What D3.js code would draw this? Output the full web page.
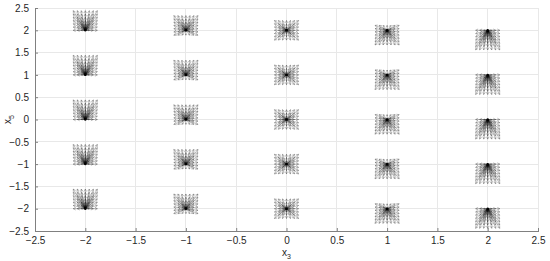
<!DOCTYPE html>
<html>
<head>
<meta charset="utf-8">
<script src="https://cdn.jsdelivr.net/npm/d3@7"></script>
<style>
  body { margin: 0; background: #fff; }
  text { font-family: "Liberation Sans", Arial, sans-serif; }
</style>
</head>
<body>
<script>
"use strict";

// grid points of the state plane
var x3Values = [-2, -1, 0, 1, 2];
var x5Values = [-2, -1, 0, 1, 2];

// endpoint offsets of each arrow fan
var dxOffsets = [-0.12, -0.08, -0.04, 0, 0.04, 0.08, 0.12];
var dyOffsets = [-0.22, -0.147, -0.073, 0, 0.073, 0.147, 0.22];
// vertical drift of the fan per x3 column
var columnDrift = [0.22, 0.11, 0, -0.11, -0.22];

var tickValues = [-2.5, -2, -1.5, -1, -0.5, 0, 0.5, 1, 1.5, 2, 2.5];

var width = 550, height = 261;
var margin = { top: 8, left: 35, right: 12, bottom: 30 };

var svg = d3.select("body").append("svg")
	.attr("width", width)
	.attr("height", height);

var xScale = d3.scaleLinear().domain([-2.5, 2.5]).range([margin.left, width - margin.right]);
var yScale = d3.scaleLinear().domain([-2.5, 2.5]).range([height - margin.bottom, margin.top]);

// gridlines
svg.append("g")
	.selectAll("line.vgrid")
	.data(tickValues)
	.enter().append("line")
	.attr("x1", d => xScale(d)).attr("x2", d => xScale(d))
	.attr("y1", yScale(-2.5)).attr("y2", yScale(2.5))
	.attr("stroke", "#e8e8e8").attr("stroke-width", 1)
	.attr("shape-rendering", "crispEdges");
svg.append("g")
	.selectAll("line.hgrid")
	.data(tickValues)
	.enter().append("line")
	.attr("y1", d => yScale(d)).attr("y2", d => yScale(d))
	.attr("x1", xScale(-2.5)).attr("x2", xScale(2.5))
	.attr("stroke", "#e8e8e8").attr("stroke-width", 1)
	.attr("shape-rendering", "crispEdges");

// axes
var xAxis = svg.append("g")
	.attr("transform", "translate(0," + yScale(-2.5) + ")")
	.call(d3.axisBottom(xScale).tickValues(tickValues).tickSize(-3).tickPadding(6).tickFormat(d3.format("")));
var yAxis = svg.append("g")
	.attr("transform", "translate(" + xScale(-2.5) + ",0)")
	.call(d3.axisLeft(yScale).tickValues(tickValues).tickSize(-3).tickPadding(6).tickFormat(d3.format("")));

[xAxis, yAxis].forEach(function(ax) {
	ax.select(".domain").attr("stroke", "#808080").attr("shape-rendering", "crispEdges");
	ax.selectAll(".tick line").attr("stroke", "#808080");
	ax.selectAll(".tick text").attr("fill", "#262626").style("font-size", "10px")
		.style("font-family", "'Liberation Sans', Arial, sans-serif");
});

// axis labels
var xLabel = svg.append("text")
	.attr("x", xScale(0)).attr("y", height - 5)
	.attr("text-anchor", "middle")
	.attr("fill", "#262626").style("font-size", "10px");
xLabel.append("tspan").text("x");
xLabel.append("tspan").attr("dy", 3).style("font-size", "7px").text("3");

var yLabel = svg.append("text")
	.attr("transform", "translate(11," + yScale(0) + ") rotate(-90)")
	.attr("text-anchor", "middle")
	.attr("fill", "#262626").style("font-size", "10px");
yLabel.append("tspan").text("x");
yLabel.append("tspan").attr("dy", 3).style("font-size", "7px").text("5");

// arrow fans
var arrows = [];
x3Values.forEach(function(cx, ci) {
	x5Values.forEach(function(cy) {
		dxOffsets.forEach(function(dx) {
			dyOffsets.forEach(function(dy) {
				arrows.push({ x0: cx, y0: cy, x1: cx + dx, y1: cy + dy + columnDrift[ci] });
			});
		});
	});
});

var fans = svg.append("g").attr("class", "fans");
var headLen = 2.8;

fans.selectAll("path")
	.data(arrows)
	.enter().append("path")
	.attr("d", function(d) {
		var px0 = xScale(d.x0), py0 = yScale(d.y0);
		var px1 = xScale(d.x1), py1 = yScale(d.y1);
		var a = Math.atan2(py1 - py0, px1 - px0);
		var len = Math.hypot(px1 - px0, py1 - py0);
		var p = "M" + px0 + "," + py0 + "L" + px1 + "," + py1;
		if (len > 0.5) {
			var h = Math.min(headLen, len * 0.35);
			p += "M" + (px1 - h * Math.cos(a - 0.5)) + "," + (py1 - h * Math.sin(a - 0.5))
				+ "L" + px1 + "," + py1
				+ "L" + (px1 - h * Math.cos(a + 0.5)) + "," + (py1 - h * Math.sin(a + 0.5));
		}
		return p;
	})
	.attr("fill", "none")
	.attr("stroke", "#000")
	.attr("stroke-opacity", 0.5)
	.attr("stroke-width", 0.5);

// hub dots
fans.selectAll("circle")
	.data(d3.cross(x3Values, x5Values))
	.enter().append("circle")
	.attr("cx", d => xScale(d[0]))
	.attr("cy", d => yScale(d[1]))
	.attr("r", 1.2)
	.attr("fill", "#000");
</script>
</body>
</html>
